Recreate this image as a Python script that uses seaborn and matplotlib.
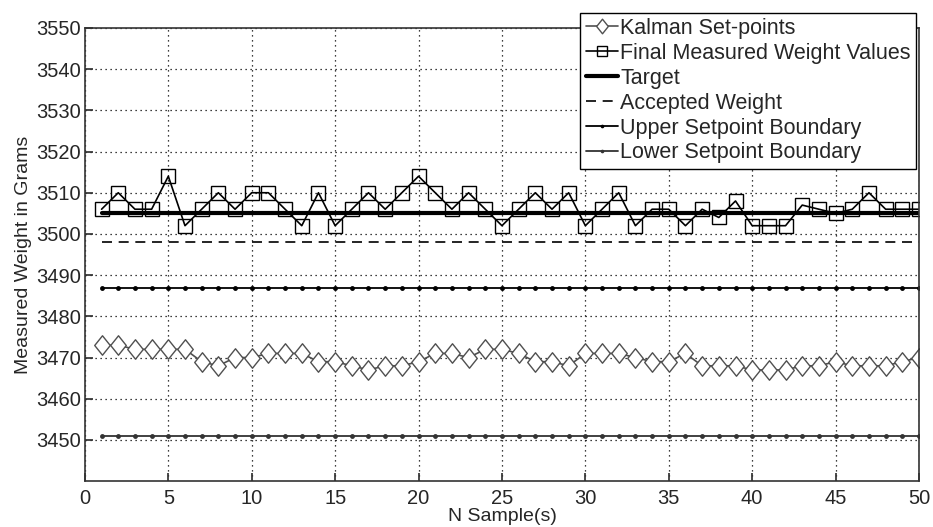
import numpy as np
import pandas as pd
import matplotlib
matplotlib.use("Agg")
import matplotlib.pyplot as plt
from matplotlib.path import Path
import seaborn as sns

samples = list(range(1, 51))
kalman = [3473, 3473, 3472, 3472, 3472, 3472, 3469, 3468, 3470, 3470,
          3471, 3471, 3471, 3469, 3469, 3468, 3467, 3468, 3468, 3469,
          3471, 3471, 3470, 3472, 3472, 3471, 3469, 3469, 3468, 3471,
          3471, 3471, 3470, 3469, 3469, 3471, 3468, 3468, 3468, 3467,
          3467, 3467, 3468, 3468, 3469, 3468, 3468, 3468, 3469, 3470]
measured = [3506, 3510, 3506, 3506, 3514, 3502, 3506, 3510, 3506, 3510,
            3510, 3506, 3502, 3510, 3502, 3506, 3510, 3506, 3510, 3514,
            3510, 3506, 3510, 3506, 3502, 3506, 3510, 3506, 3510, 3502,
            3506, 3510, 3502, 3506, 3506, 3502, 3506, 3504, 3508, 3502,
            3502, 3502, 3507, 3506, 3505, 3506, 3510, 3506, 3506, 3506]
target_value = 3505
accepted_value = 3498
upper_value = 3487
lower_value = 3451
x_ticks = [0, 5, 10, 15, 20, 25, 30, 35, 40, 45, 50]
y_ticks = [3450, 3460, 3470, 3480, 3490, 3500, 3510, 3520, 3530, 3540, 3550]

sns.set_theme(style="white")
plt.rcParams['font.family'] = ['Liberation Sans', 'DejaVu Sans']

df = pd.DataFrame({
    "n": samples,
    "kalman": kalman,
    "measured": measured,
    "target": [target_value] * len(samples),
    "accepted": [accepted_value] * len(samples),
    "upper": [upper_value] * len(samples),
    "lower": [lower_value] * len(samples),
})

diamond = Path([(0, 1), (0.8, 0), (0, -1), (-0.8, 0), (0, 1)],
               [Path.MOVETO, Path.LINETO, Path.LINETO, Path.LINETO, Path.CLOSEPOLY])

fig = plt.figure(figsize=(9.33, 5.27), dpi=100)
ax = fig.add_axes([0.091, 0.087, 0.894, 0.860])

sns.lineplot(data=df, x="n", y="kalman", ax=ax, color="#505050", lw=1.2,
             marker=diamond, markersize=14, markerfacecolor="white",
             markeredgecolor="#505050", markeredgewidth=1.0,
             label="Kalman Set-points")
sns.lineplot(data=df, x="n", y="measured", ax=ax, color="black", lw=1.2,
             marker="s", markersize=10.5, markerfacecolor="none",
             markeredgecolor="black", markeredgewidth=1.0,
             label="Final Measured Weight Values")
sns.lineplot(data=df, x="n", y="target", ax=ax, color="black", lw=3,
             label="Target")
sns.lineplot(data=df, x="n", y="accepted", ax=ax, color="black", lw=1.2,
             linestyle=(0, (6, 4)), label="Accepted Weight")
sns.lineplot(data=df, x="n", y="upper", ax=ax, color="black", lw=1.3,
             marker="o", markersize=3.5, markeredgewidth=0,
             label="Upper Setpoint Boundary")
sns.lineplot(data=df, x="n", y="lower", ax=ax, color="#333333", lw=1.3,
             marker="o", markersize=3.5, markeredgewidth=0,
             label="Lower Setpoint Boundary")

ax.set_xlim(0, 50)
ax.set_ylim(3440, 3550)
ax.set_xticks(x_ticks)
ax.set_yticks(y_ticks)
ax.tick_params(axis="both", labelsize=14.5, direction="in", length=6,
               color="#333333", left=True, bottom=True, pad=3)
ax.tick_params(axis="x", pad=6)
ax.grid(True, linestyle=(0, (1, 3)), color="black", lw=0.9)
for s in ax.spines.values():
    s.set_color("#333333")
    s.set_linewidth(1.2)

ax.set_xlabel("N Sample(s)", fontsize=14, labelpad=0)
ax.set_ylabel("Measured Weight in Grams", fontsize=14, labelpad=3)

leg = ax.legend(loc="upper right", bbox_to_anchor=(0.982, 0.976),
                bbox_transform=fig.transFigure, fontsize=15.5,
                frameon=True, fancybox=False, handlelength=1.5,
                handletextpad=0.1, borderpad=0.25, labelspacing=0.18,
                borderaxespad=0, markerscale=0.75)
leg.get_frame().set_edgecolor("black")
leg.get_frame().set_linewidth(1.0)
leg.get_frame().set_alpha(1)

fig.savefig("out.png", dpi=100)
